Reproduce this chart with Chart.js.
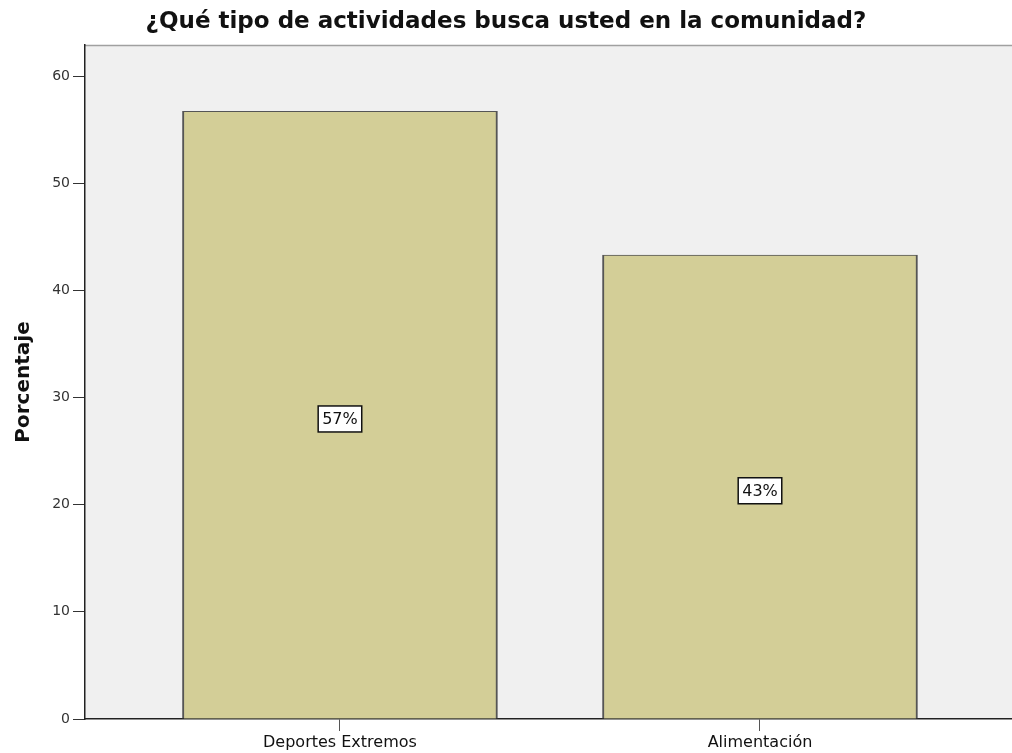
<!DOCTYPE html>
<html>
<head>
<meta charset="utf-8">
<script src="https://cdn.jsdelivr.net/npm/chart.js@4/dist/chart.umd.min.js"></script>
<style>
html,body{margin:0;padding:0;background:#fff;}
#wrap{width:1012px;height:753px;}
</style>
</head>
<body>
<div id="wrap"><canvas id="c" width="1012" height="753"></canvas></div>
<script>
const chartTitle = '¿Qué tipo de actividades busca usted en la comunidad?';
const categories = ['Deportes Extremos', 'Alimentación'];
const percentages = [56.7, 43.3];
const yTickValues = [0, 10, 20, 30, 40, 50, 60];
const yAxisTitle = 'Porcentaje';

const FONT = '"DejaVu Sans", "Liberation Sans", Arial, sans-serif';

const plotBg = {
  id: 'plotBg',
  beforeDraw(chart) {
    const {ctx, chartArea: a} = chart;
    ctx.save();
    ctx.fillStyle = '#f0f0f0';
    ctx.fillRect(a.left, a.top, a.right - a.left, a.bottom - a.top);
    ctx.strokeStyle = '#a0a0a0';
    ctx.lineWidth = 1.5;
    ctx.beginPath();
    ctx.moveTo(a.left, a.top + 0.5);
    ctx.lineTo(a.right, a.top + 0.5);
    ctx.stroke();
    ctx.restore();
  }
};

const barLabels = {
  id: 'barLabels',
  afterDatasetsDraw(chart) {
    const {ctx} = chart;
    const meta = chart.getDatasetMeta(0);
    ctx.save();
    ctx.font = '16px ' + FONT;
    ctx.textAlign = 'center';
    ctx.textBaseline = 'middle';
    meta.data.forEach((bar, i) => {
      const v = chart.data.datasets[0].data[i].y;
      const txt = Math.round(v) + '%';
      const cx = bar.x;
      const cy = (bar.y + bar.base) / 2 + 4;
      const w = ctx.measureText(txt).width + 8;
      const h = 26;
      ctx.fillStyle = '#ffffff';
      ctx.fillRect(cx - w / 2, cy - h / 2, w, h);
      ctx.strokeStyle = '#111';
      ctx.lineWidth = 1.5;
      ctx.strokeRect(cx - w / 2, cy - h / 2, w, h);
      ctx.fillStyle = '#111';
      ctx.fillText(txt, cx, cy + 1);
    });
    ctx.restore();
  }
};

new Chart(document.getElementById('c'), {
  type: 'bar',
  data: {
    datasets: [{
      data: categories.map((c, i) => ({x: i, y: percentages[i]})),
      backgroundColor: '#d3ce97',
      borderColor: '#555555',
      borderWidth: {left: 2, right: 2, top: 1, bottom: 0},
      borderSkipped: false,
      barThickness: 315
    }]
  },
  options: {
    responsive: false,
    animation: false,
    devicePixelRatio: 1,
    layout: {padding: {left: 0, right: 0, top: 0, bottom: 0}},
    plugins: {
      legend: {display: false},
      tooltip: {enabled: false},
      title: {
        display: true,
        text: chartTitle,
        color: '#111',
        font: {family: FONT, size: 23, weight: 'bold', lineHeight: 1.2},
        padding: {top: 8, bottom: 9.4}
      }
    },
    scales: {
      x: {
        type: 'linear',
        offset: false,
        min: -0.607,
        max: 1.6,
        afterBuildTicks(scale) { scale.ticks = categories.map((c, i) => ({value: i})); },
        afterFit(scale) { scale.height = 34; },
        ticks: {
          autoSkip: false,
          maxRotation: 0,
          padding: 2,
          color: '#111',
          font: {family: FONT, size: 16},
          callback: (v) => categories[v] !== undefined ? categories[v] : ''
        },
        grid: {offset: false, drawOnChartArea: false, drawTicks: true, tickLength: 12, color: '#555', lineWidth: 1},
        border: {display: true, color: '#222', width: 1.5}
      },
      y: {
        min: 0,
        max: 62.9,
        afterBuildTicks(scale) { scale.ticks = yTickValues.map(v => ({value: v})); },
        afterFit(scale) { scale.width = 85; },
        ticks: {
          padding: 3,
          color: '#333',
          font: {family: FONT, size: 14}
        },
        grid: {drawOnChartArea: false, drawTicks: true, tickLength: 12, color: '#333', lineWidth: 1},
        border: {display: true, color: '#222', width: 1.5},
        title: {
          display: true,
          text: yAxisTitle,
          color: '#111',
          font: {family: FONT, size: 20, weight: 'bold', lineHeight: 1.2},
          padding: {top: 12, bottom: 0}
        }
      }
    }
  },
  plugins: [plotBg, barLabels]
});
</script>
</body>
</html>
